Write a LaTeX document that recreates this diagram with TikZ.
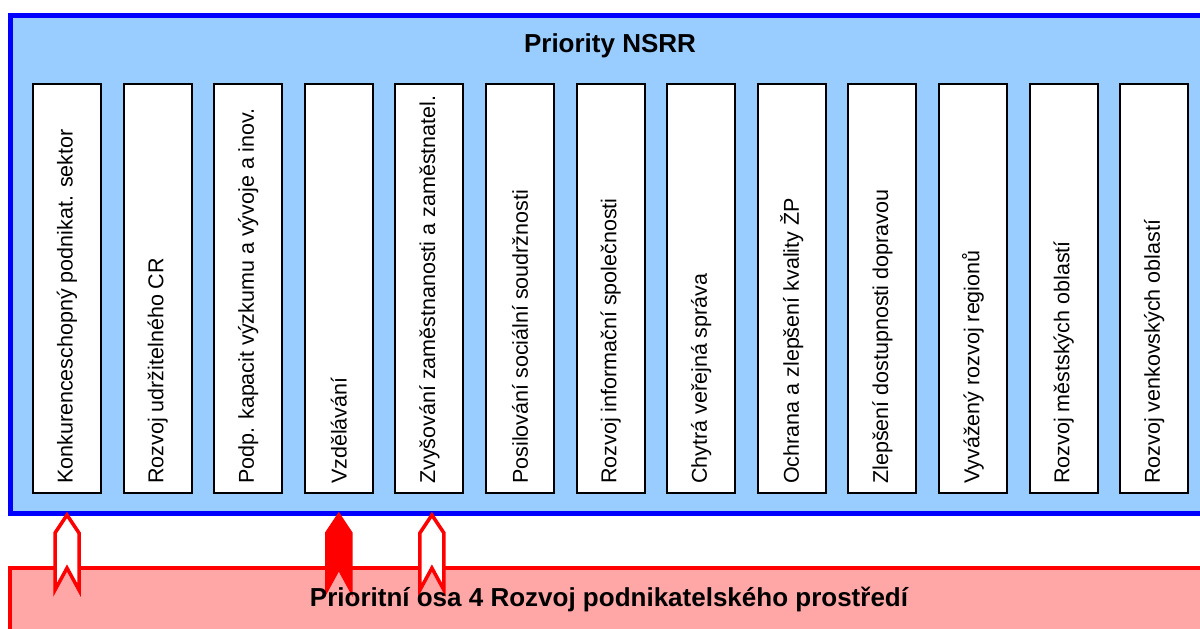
\documentclass[tikz,border=0pt]{standalone}
\usepackage{fontspec}
\setmainfont{Liberation Sans}
\usetikzlibrary{calc}
\definecolor{nsrrblue}{RGB}{153,204,255}
\definecolor{osapink}{RGB}{255,166,166}

\tikzset{
  colbox/.style={draw=black,line width=2pt,fill=white,minimum width=68pt,minimum height=409pt,inner sep=0pt,anchor=north west},
  coltext/.style={rotate=90,anchor=west,inner sep=0pt,font=\fontsize{21.5}{26}\selectfont},
  titletext/.style={anchor=base,font=\fontsize{26}{30}\selectfont\bfseries},
  osaarrow/.style={draw=red,line width=3.5pt,line join=miter}
}

\begin{document}
\begin{tikzpicture}[x=1pt,y=-1pt]
	\clip (0,0) rectangle (1200,629);
	% frames
	\draw[draw=blue,fill=nsrrblue,line width=5pt] (10,15) rectangle (1220,513);
	\draw[draw=red,fill=osapink,line width=4pt] (10,568) rectangle (1220,650);
	% priority columns
	\foreach \t [count=\i] in {Konkurenceschopný podnikat. sektor,Rozvoj udržitelného CR,Podp. kapacit výzkumu a vývoje a inov.,Vzdělávání,Zvyšování zaměstnanosti a zaměstnatel.,Posilování sociální soudržnosti,Rozvoj informační společnosti,Chytrá veřejná správa,Ochrana a zlepšení kvality ŽP,Zlepšení dostupnosti dopravou,Vyvážený rozvoj regionů,Rozvoj městských oblastí,Rozvoj venkovských oblastí}{
		\node[colbox] (b\i) at ({32+90.6*(\i-1)},83) {};
		\node[coltext] (t\i) at ($(b\i.south)+(0,-10)$) {\t};
	}
	% arrows from the axis
	\foreach \b/\dx/\f in {1/0/white,4/0/red,5/2.5/white}
		\draw[osaarrow,fill=\f] ($(b\b.south)+(\dx,21)$) -- ++(12,18) -- ++(0,57) -- ++(-12,-22) -- ++(-12,22) -- ++(0,-57) -- cycle;
	\node[titletext] (nsrr) at (610,52) {Priority NSRR};
	\node[titletext] (osa) at (609,606) {Prioritní osa 4 Rozvoj podnikatelského prostředí};
\end{tikzpicture}
\end{document}
